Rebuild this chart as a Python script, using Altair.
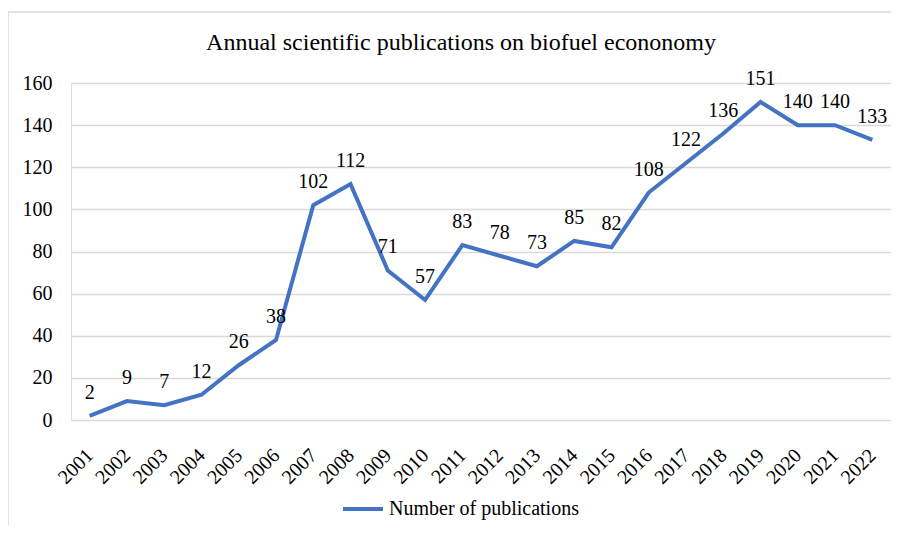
import altair as alt
import pandas as pd

years = [str(y) for y in range(2001, 2023)]
counts = [2, 9, 7, 12, 26, 38, 102, 112, 71, 57, 83, 78, 73, 85, 82, 108, 122, 136, 151, 140, 140, 133]
series = "Number of publications"
title_text = "Annual scientific publications on biofuel econonomy"

df = pd.DataFrame({"year": years, "count": counts, "series": [series] * len(years)})

FONT = "Liberation Serif"
BLUE = "#4472C4"

x = alt.X("year:N", sort=years, title=None,
          scale=alt.Scale(type="point", padding=0.5),
          axis=alt.Axis(labelAngle=-45, labelAlign="right", labelBaseline="middle",
                        labelFontSize=20, labelFont=FONT, labelColor="#000000",
                        ticks=False, domain=False, labelPadding=32, grid=False))
y = alt.Y("count:Q", title=None,
          scale=alt.Scale(domain=[0, 160]),
          axis=alt.Axis(values=list(range(0, 161, 20)), labelFontSize=20, labelFont=FONT,
                        labelColor="#000000", ticks=False, domain=False, labelPadding=19,
                        gridColor="#d9d9d9", gridWidth=1.3))

base = alt.Chart(df)

line = base.mark_line(strokeWidth=4, strokeJoin="miter").encode(
    x=x, y=y,
    color=alt.Color("series:N", scale=alt.Scale(range=[BLUE]),
                    legend=alt.Legend(title=None, orient="none", legendX=270, legendY=404,
                                      symbolType="stroke", symbolStrokeWidth=4, symbolSize=1600,
                                      labelFontSize=20, labelFont=FONT, labelColor="#000000",
                                      labelOffset=4, labelLimit=400)),
)

labels = base.mark_text(fontSize=20, font=FONT, color="#000000", dy=-17, baseline="alphabetic").encode(
    x=x, y=y, text="count:Q"
)

border = alt.Chart(pd.DataFrame({"a": [0]})).mark_rect(
    fill=None, stroke="#d9d9d9", strokeWidth=1.5
).encode(x=alt.value(-63), x2=alt.value(826), y=alt.value(-71), y2=alt.value(460))

title = alt.Chart(pd.DataFrame({"t": [title_text]})).mark_text(
    font=FONT, fontSize=24, color="#000000", align="center", baseline="alphabetic"
).encode(x=alt.value(390), y=alt.value(-33), text="t:N")

chart = alt.layer(border, line, labels, title).properties(
    width=820, height=337,
    padding={"left": 63, "top": 75, "right": 0, "bottom": 106},
    autosize=alt.AutoSizeParams(type="none"),
).configure_view(stroke=None).configure(background="white")

chart.save("out.html", embed_options={"renderer": "svg", "actions": False})
